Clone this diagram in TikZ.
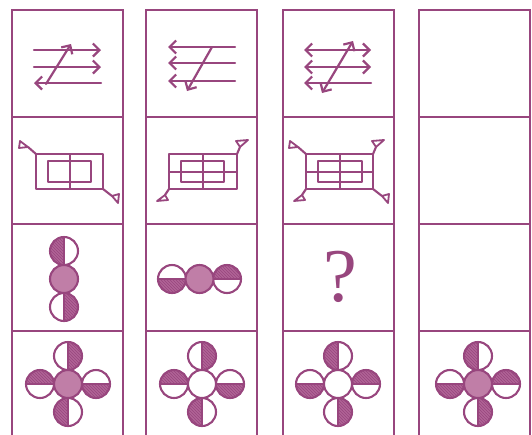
\documentclass[tikz,border=0pt]{standalone}
\usepackage{fontspec}
\newfontfamily\qfont{Liberation Serif}
\usetikzlibrary{arrows.meta,patterns}
\definecolor{pu}{RGB}{152,70,126}
\definecolor{pl}{RGB}{192,126,167}
\definecolor{ph}{RGB}{176,100,150}
\tikzset{
  frame/.style={draw=pu, line width=2.2pt},
  fig/.style={draw=pu, line width=2.1pt, line join=round},
  tri/.style={draw=pu, line width=1.8pt, line join=round},
  arr/.style={draw=pu, line width=2.2pt, line cap=round, -{Straight Barb[length=6.5pt,width=13pt]}},
  darr/.style={draw=pu, line width=2.2pt, {Straight Barb[length=6.5pt,width=13pt]}-{Straight Barb[length=6.5pt,width=13pt]}},
  hatch/.style={preaction={fill=ph}, pattern=north west lines, pattern color=pu},
}
\newcommand\cTL[2]{\draw[fig] (#1,#2) -- ++(-8,-7) coordinate (p); \draw[tri] (p) -- ++(-8,-6) -- ++(-1,7) -- cycle;}
\newcommand\cBR[2]{\draw[fig] (#1,#2) -- ++(9,7) coordinate (p); \draw[tri] (p) -- ++(7,-2) -- ++(-1,9) -- cycle;}
\newcommand\cTR[2]{\draw[fig] (#1,#2) -- ++(3,-7) coordinate (p); \draw[tri] (p) -- ++(-4,-6) -- ++(12,-1) -- cycle;}
\newcommand\cBL[2]{\draw[fig] (#1,#2) -- ++(-4,6) coordinate (p); \draw[tri] (p) -- ++(-8,6) -- ++(11,-1) -- cycle;}
\newcommand\hcirc[3]{%
  \fill[white] (#1,#2) circle[radius=14];
  \path[hatch] (#1,#2) ++(#3:14) arc[start angle=#3, delta angle=180, radius=14] -- cycle;
  \draw[fig] (#1,#2) circle[radius=14];
  \draw[fig] (#1,#2) ++(#3:14) -- ++({#3+180}:28);}
\newcommand\fcirc[2]{\draw[fig, fill=pl] (#1,#2) circle[radius=14];}
\newcommand\wcirc[2]{\draw[fig, fill=white] (#1,#2) circle[radius=14];}
\begin{document}
\begin{tikzpicture}[x=1pt,y=-1pt]
\clip (0,0) rectangle (532,434);
\fill[white] (0,0) rectangle (532,434);
% grid of cells
\foreach \cx in {12,146,283,419}
  \foreach \cy in {10,117,224,331}
    \draw[frame] (\cx,\cy) rectangle ++(111,107);
% row 1
\draw[arr] (34,50) -- (101,50);
\draw[arr] (34,67) -- (101,67);
\draw[arr] (101,83) -- (34,83);
\draw[arr] (46,84) -- (71,44);
\draw[arr] (235,47) -- (168,47);
\draw[arr] (235,63) -- (168,63);
\draw[arr] (235,81) -- (168,81);
\draw[arr] (212,47) -- (187,91);
\draw[darr] (304,50) -- (371,50);
\draw[darr] (304,67) -- (371,67);
\draw[arr] (371,83) -- (304,83);
\draw[darr] (322,93) -- (353,41);
% row 2
\draw[fig] (36,154) rectangle (103,189);
\draw[fig] (48,161) rectangle (91,182);
\draw[fig] (70,154) -- (70,189);
\cTL{36}{154} \cBR{103}{189}
\draw[fig] (169,154) rectangle (237,189);
\draw[fig] (181,161) rectangle (224,182);
\draw[fig] (203,154) -- (203,189);
\draw[fig] (169,172) -- (237,172);
\cTR{237}{154} \cBL{169}{189}
\draw[fig] (306,154) rectangle (373,189);
\draw[fig] (318,161) rectangle (362,182);
\draw[fig] (340,154) -- (340,189);
\draw[fig] (306,172) -- (373,172);
\cTL{306}{154} \cTR{373}{154} \cBL{306}{189} \cBR{373}{189}
% row 3
\hcirc{64}{251}{90}
\hcirc{64}{307}{-90}
\fcirc{64}{279}
\hcirc{172}{279}{0}
\hcirc{227}{279}{180}
\fcirc{199.5}{279}
\node[text=pu, font=\qfont\fontsize{76}{76}\selectfont, inner sep=0pt] (q) at (340,277) {?};
% row 4
\hcirc{68}{356}{-90}
\hcirc{40}{384}{180}
\hcirc{96}{384}{0}
\hcirc{68}{412}{90}
\fcirc{68}{384}
\hcirc{202}{356}{-90}
\hcirc{174}{384}{180}
\hcirc{230}{384}{0}
\hcirc{202}{412}{90}
\wcirc{202}{384}
\hcirc{338}{356}{90}
\hcirc{310}{384}{0}
\hcirc{366}{384}{180}
\hcirc{338}{412}{-90}
\wcirc{338}{384}
\hcirc{478}{356}{90}
\hcirc{450}{384}{0}
\hcirc{506}{384}{180}
\hcirc{478}{412}{-90}
\fcirc{478}{384}
\end{tikzpicture}
\end{document}
